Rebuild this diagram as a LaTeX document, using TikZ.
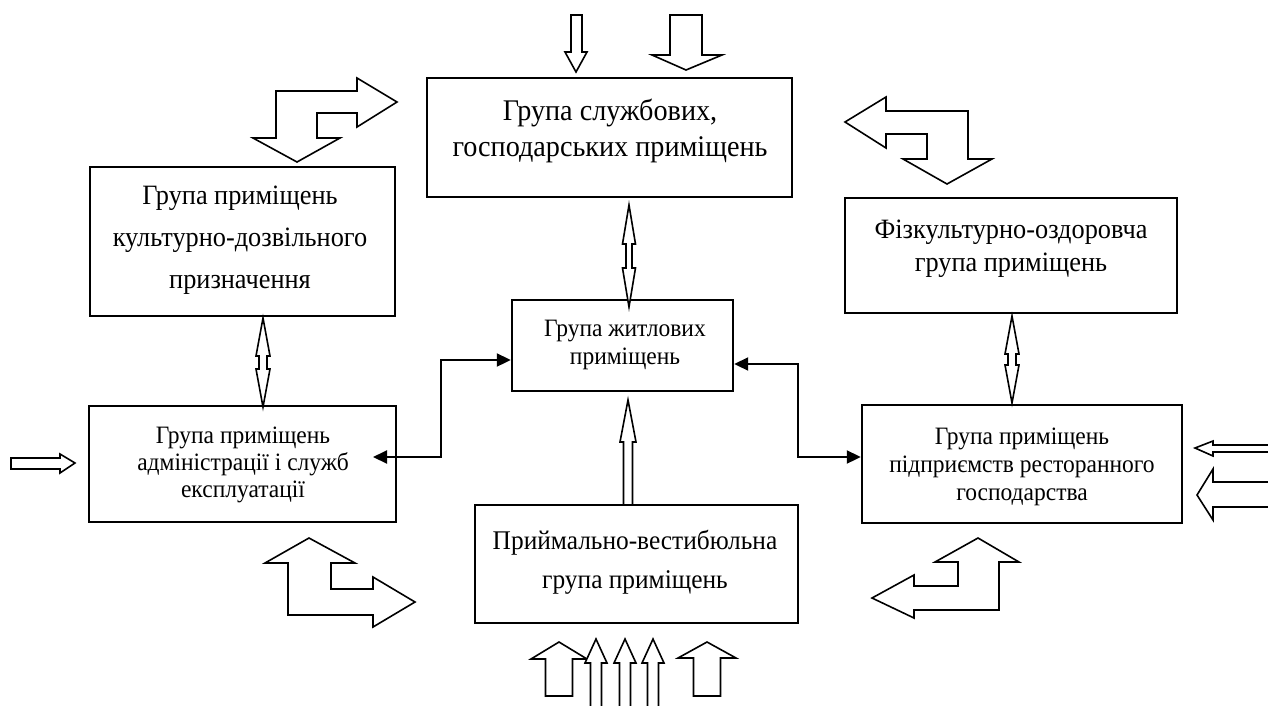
\documentclass[tikz,border=0pt]{standalone}
\usepackage{fontspec}
\setmainfont[FakeStretch=0.94]{Liberation Serif}
\usetikzlibrary{arrows.meta}
\newcommand{\vdarr}[6]{% x, ytop, ybot, headlen, headhalf, shafthalf
  \filldraw[hollow] (#1,#2) -- ({#1+#5},{#2+#4}) -- ({#1+#6},{#2+#4}) -- ({#1+#6},{#3-#4}) -- ({#1+#5},{#3-#4}) -- (#1,#3) -- ({#1-#5},{#3-#4}) -- ({#1-#6},{#3-#4}) -- ({#1-#6},{#2+#4}) -- ({#1-#5},{#2+#4}) -- cycle;}
\newcommand{\uparr}[6]{% x, ytip, ybase, headlen, headhalf, shafthalf
  \filldraw[hollow] (#1,#2) -- ({#1+#5},{#2+#4}) -- ({#1+#6},{#2+#4}) -- ({#1+#6},#3) -- ({#1-#6},#3) -- ({#1-#6},{#2+#4}) -- ({#1-#5},{#2+#4}) -- cycle;}
\begin{document}
\begin{tikzpicture}[x=1pt,y=-1pt,
  box/.style={draw, line width=2.4pt, rectangle, inner sep=0pt},
  hollow/.style={draw, fill=white, line width=1.6pt, line join=miter},
  conn/.style={line width=2pt, {Triangle[length=14pt,width=13pt]}-{Triangle[length=14pt,width=13pt]}},
  txt/.style={align=center, inner sep=0pt}]
\useasboundingbox (0,0) rectangle (1268,705);
\clip (0,0) rectangle (1268,705);

% boxes
\node[box, minimum width=365pt, minimum height=119pt] (top) at (609.5,137.5) {};
\node[box, minimum width=305pt, minimum height=149pt] (lt) at (242.5,241.5) {};
\node[box, minimum width=332pt, minimum height=115pt] (rt) at (1011,255.5) {};
\node[box, minimum width=221pt, minimum height=91pt] (c) at (622.5,345.5) {};
\node[box, minimum width=307pt, minimum height=116pt] (lm) at (242.5,464) {};
\node[box, minimum width=320pt, minimum height=118pt] (rm) at (1022,464) {};
\node[box, minimum width=323pt, minimum height=118pt] (bot) at (636.5,564) {};

% texts
\node[txt, font=\fontsize{30}{36}\selectfont] (topT) at (610,131) {Група службових,\\господарських приміщень};
\node[txt, font=\fontsize{28}{42}\selectfont] (ltT) at (240,240) {Група приміщень\\культурно-дозвільного\\призначення};
\node[txt, font=\fontsize{28}{33}\selectfont] (rtT) at (1011,249) {Фізкультурно-оздоровча\\група приміщень};
\node[txt, font=\fontsize{25}{28}\selectfont] (cT) at (625,345) {Група житлових\\приміщень};
\node[txt, font=\fontsize{25}{27}\selectfont] (lmT) at (243,465) {Група приміщень\\адміністрації і служб\\експлуатації};
\node[txt, font=\fontsize{25}{28}\selectfont] (rmT) at (1022,467) {Група приміщень\\підприємств ресторанного\\господарства};
\node[txt, font=\fontsize{27}{39}\selectfont] (botT) at (635,562) {Приймально-вестибюльна\\група приміщень};

% connectors
\coordinate (lmIn) at (373,457);
\draw[conn] (c.west |- 0,360) -| (441,457) -- (lmIn);
\draw[conn] (c.east |- 0,364) -| (798,457) -- (rm.west |- 0,457);

% double arrows between boxes
\vdarr{629}{205}{307}{39}{6.5}{3}
\vdarr{263}{318}{407}{38}{7}{4}
\vdarr{1012}{316}{403}{38}{7}{4}
% bottom to centre
\uparr{628}{400}{505}{42}{8}{4.5}

% top arrows
\filldraw[hollow] (576,72) -- (587,52) -- (582,52) -- (582,15) -- (571,15) -- (571,52) -- (565,52) -- cycle;
\filldraw[hollow] (686,70) -- (722,55) -- (702,55) -- (702,15) -- (670,15) -- (670,55) -- (652,55) -- cycle;

% bent arrows
\filldraw[hollow] (276,91) -- (357,91) -- (357,78) -- (397,102) -- (357,127) -- (357,113) -- (317,113) -- (317,138) -- (340,138) -- (297,162) -- (253,138) -- (276,138) -- cycle;
\filldraw[hollow] (845,122) -- (886,97) -- (886,111) -- (968,111) -- (968,159) -- (992,159) -- (947,184) -- (903,159) -- (927,159) -- (927,134) -- (886,134) -- (886,148) -- cycle;
\filldraw[hollow] (309,538) -- (355,563) -- (331,563) -- (331,589) -- (373,589) -- (373,577) -- (415,602) -- (373,627) -- (373,615) -- (288,615) -- (288,563) -- (265,563) -- cycle;
\filldraw[hollow] (978,538) -- (1019,562) -- (999,562) -- (999,610) -- (914,610) -- (914,618) -- (872,598) -- (914,575) -- (914,586) -- (958,586) -- (958,562) -- (935,562) -- cycle;

% left arrow
\filldraw[hollow] (75,463) -- (60,473) -- (60,469) -- (11,469) -- (11,458) -- (60,458) -- (60,454) -- cycle;
% right arrows
\filldraw[hollow] (1195,448) -- (1213,441) -- (1213,445) -- (1275,445) -- (1275,452) -- (1213,452) -- (1213,456) -- cycle;
\filldraw[hollow] (1197,495) -- (1213,469) -- (1213,482) -- (1275,482) -- (1275,507) -- (1213,507) -- (1213,520) -- cycle;

% bottom arrows
\uparr{559}{642}{696}{17}{28}{13.5}
\uparr{707}{642}{696}{16}{29}{13.5}
\uparr{596}{639}{712}{24}{11}{5.5}
\uparr{625}{639}{712}{24}{11}{5.5}
\uparr{653}{639}{712}{24}{11}{5.5}
\end{tikzpicture}
\end{document}
